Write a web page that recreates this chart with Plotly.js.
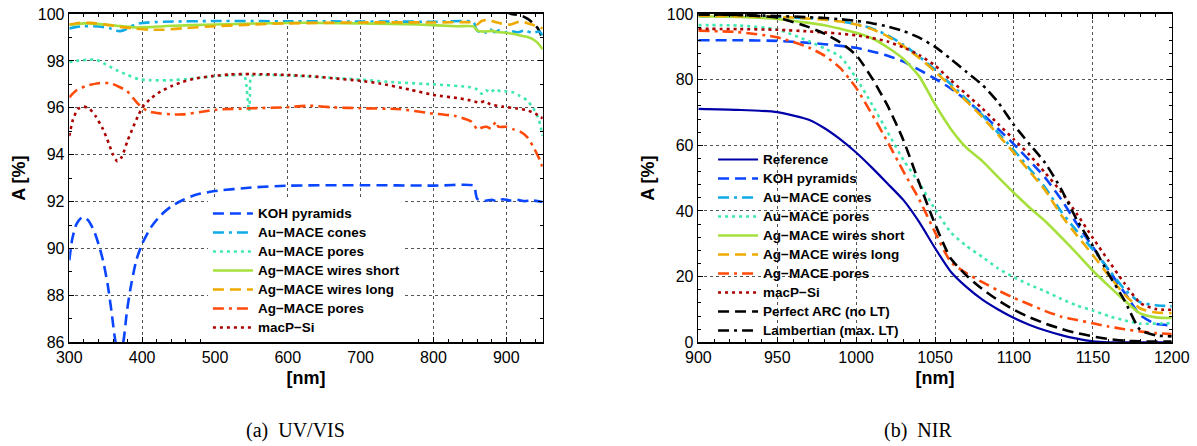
<!DOCTYPE html>
<html>
<head>
<meta charset="utf-8">
<script src="https://cdn.plot.ly/plotly-3.0.1.min.js"></script>
<style>
  html, body { margin: 0; padding: 0; background: #fff; }
  #chart { width: 1197px; height: 446px; }
</style>
</head>
<body>
<div id="chart"></div>
<script>
// ---------- (a) UV/VIS : absorption A [%] vs wavelength [nm] ----------
const uvKohNm = [300,304,310,318,326,334,341,347,353,358,363,368,374,379,384,392,400,412,425,440,456,475,500,550,600,700,800,856,858,860,870,880,888,895,905,915,925,935,950];
const uvKohA  = [89.5,90.4,91.05,91.35,91.2,90.75,90.1,89.4,88.4,87.3,86.1,85.5,86.0,87.3,88.3,89.5,90.2,90.9,91.4,91.8,92.07,92.3,92.45,92.6,92.68,92.7,92.68,92.67,92.35,92.12,92.03,92.08,92.0,92.1,92.05,92.08,92.02,92.05,91.98];

const uvAuConesNm = [300,310,320,340,355,362,370,378,390,400,430,500,600,700,800,855,858,862,868,872,878,884,890,897,905,915,925,935,945,950];
const uvAuConesA  = [99.38,99.45,99.48,99.47,99.4,99.3,99.27,99.35,99.55,99.62,99.67,99.7,99.69,99.68,99.67,99.66,99.4,99.25,99.3,99.2,99.35,99.22,99.3,99.2,99.28,99.22,99.3,99.2,99.25,99.1];

const uvAuPoresNm = [300,310,325,337,350,365,380,395,410,435,470,500,530,540,543,545,547,548,549,552,600,650,700,750,800,850,860,866,872,878,885,892,900,910,919,928,937,944,950];
const uvAuPoresA  = [97.95,98.0,98.05,98.05,97.85,97.6,97.4,97.22,97.18,97.17,97.25,97.35,97.4,97.4,97.0,96.3,95.85,96.5,97.3,97.38,97.38,97.3,97.2,97.08,97.0,96.88,96.78,96.6,96.75,96.65,96.8,96.7,96.7,96.65,96.5,96.33,95.98,95.55,94.8];

const uvWiresShortNm = [300,320,342,365,388,410,434,500,620,700,780,832,855,860,870,880,890,900,910,920,928,935,942,950];
const uvWiresShortA  = [99.53,99.6,99.57,99.5,99.43,99.44,99.49,99.55,99.63,99.6,99.55,99.48,99.47,99.3,99.25,99.28,99.22,99.2,99.15,99.08,99.03,98.95,98.8,98.5];

const uvWiresLongNm = [300,315,330,350,370,390,410,430,460,500,550,600,700,800,856,860,866,873,880,886,892,900,906,912,919,928,937,947,950];
const uvWiresLongA  = [99.55,99.63,99.62,99.55,99.45,99.38,99.33,99.33,99.4,99.48,99.55,99.6,99.64,99.64,99.63,99.55,99.7,99.75,99.7,99.65,99.6,99.56,99.55,99.62,99.68,99.62,99.53,99.42,99.38];

const uvAgPoresNm = [300,310,325,340,356,368,379,388,395,401,412,425,440,456,480,502,550,595,630,662,700,754,795,830,852,861,866,873,879,884,887,889,900,910,919,928,937,946,951];
const uvAgPoresA  = [96.45,96.75,96.95,97.05,97.05,96.9,96.72,96.4,96.15,95.98,95.82,95.76,95.72,95.72,95.82,95.92,95.98,96.02,96.09,96.02,95.98,95.94,95.77,95.65,95.41,95.05,95.15,95.19,95.12,95.34,95.41,95.19,95.19,95.08,94.98,94.77,94.34,93.77,93.35];

const uvMacpNm = [300,305,312,320,328,336,346,354,360,366,372,380,388,395,401,412,425,440,456,475,498,520,549,598,630,662,700,726,767,800,836,850,863,870,878,895,915,928,940,950];
const uvMacpA  = [94.8,95.5,95.95,96.05,95.95,95.65,95.1,94.5,94.0,93.72,93.9,94.6,95.2,95.7,96.05,96.4,96.69,96.92,97.11,97.26,97.36,97.42,97.44,97.4,97.35,97.26,97.15,97.04,96.78,96.55,96.4,96.32,96.22,96.28,96.15,96.05,95.97,95.9,95.75,95.55];

const uvArcNm = [900,907,915,923,930,937,943,950];
const uvArcA  = [100.1,100.0,99.97,99.9,99.78,99.6,99.4,98.95];

// ---------- (b) NIR ----------
const nirNm = [900,925,950,970,980,990,1000,1010,1020,1030,1040,1050,1060,1070,1080,1090,1100,1110,1120,1130,1140,1150,1160,1170,1180,1190,1200];

const nirReference = [71.1,70.8,70.1,67.8,65.2,61.8,57.8,53.2,48.3,43.3,36.6,28.7,21.5,16.8,13.0,10.0,7.4,5.3,3.6,2.2,1.1,0.3,0,0,0,0,0];
const nirKoh       = [92.0,92.0,91.8,91.2,90.8,90.3,89.7,88.6,87.3,85.5,83.0,80.3,77.3,73.7,69.6,65.0,60.3,55.3,50.0,43.5,36.0,29.0,22.0,15.2,8.3,5.6,5.2];
const nirAuCones   = [99.3,99.25,99.1,98.7,98.4,97.8,96.9,95.6,93.5,90.6,87.0,83.0,78.6,74.0,69.2,63.8,58.5,52.8,47.0,39.8,33.8,28.3,22.2,16.2,12.2,11.3,11.0];
const nirAuPores   = [96.6,96.5,95.3,91.7,89.5,87.0,80.5,72.5,64.0,55.5,48.5,40.5,33.5,29.3,26.0,22.5,19.8,17.5,15.5,13.2,11.2,9.7,8.0,6.7,5.7,5.7,5.8];
const nirWiresShort= [99.3,99.1,98.5,97.3,96.6,95.5,94.3,92.6,89.8,86.3,81.0,72.5,65.0,59.2,55.2,50.3,45.5,41.0,36.8,32.0,27.0,21.8,17.2,12.8,8.8,7.6,7.4];
const nirWiresLong = [99.45,99.35,99.2,98.6,98.3,97.7,96.8,95.4,93.2,90.2,86.6,82.5,78.0,73.4,68.6,63.2,57.7,52.0,46.2,38.7,32.5,26.6,20.4,14.6,10.3,9.1,8.9];
const nirAgPores   = [94.9,94.5,92.9,89.8,87.3,83.5,77.5,69.5,61.0,52.0,43.5,33.5,24.5,21.0,18.3,15.8,13.5,11.5,9.5,7.8,6.8,5.8,4.8,4.0,3.3,2.8,2.5];
const nirMacp      = [95.5,95.4,95.2,94.7,94.4,94.0,93.5,92.7,91.6,89.8,87.5,84.3,79.8,75.5,71.2,66.5,61.8,57.0,51.5,45.8,39.0,31.8,24.8,18.0,12.0,10.1,9.9];
const nirPerfectArc= [99.9,99.7,98.9,96.0,94.0,91.3,87.5,80.5,72.0,61.5,48.5,36.0,25.5,20.3,16.2,12.8,9.9,7.6,5.7,4.1,2.8,1.8,1.0,0.5,0.3,0.2,0.2];
const nirLambertian= [99.9,99.7,99.4,99.0,98.8,98.4,97.9,97.2,96.2,94.8,92.8,90.0,86.3,82.3,78.4,73.1,66.2,60.3,54.5,46.6,37.2,29.4,20.8,12.8,3.8,2.1,1.8];

const seriesNames = ['Reference','KOH pyramids','Au\u2212MACE cones','Au\u2212MACE pores','Ag\u2212MACE wires short','Ag\u2212MACE wires long','Ag\u2212MACE pores','macP\u2212Si','Perfect ARC (no LT)','Lambertian (max. LT)'];

// line styles per series
const DASH = '11px,6px';
const DASHDOT = '11px,5px,3px,5px';
const DOT = '3px,4px';
const styles = {
  'Reference':            {color:'#0000a8', dash:'solid'},
  'KOH pyramids':         {color:'#0a46ff', dash:DASH},
  'Au\u2212MACE cones':   {color:'#10aae6', dash:DASHDOT},
  'Au\u2212MACE pores':   {color:'#3ee8b0', dash:DOT},
  'Ag\u2212MACE wires short': {color:'#a6e03c', dash:'solid'},
  'Ag\u2212MACE wires long':  {color:'#eeaa00', dash:DASH},
  'Ag\u2212MACE pores':   {color:'#ff4a0a', dash:DASHDOT},
  'macP\u2212Si':         {color:'#aa0000', dash:DOT},
  'Perfect ARC (no LT)':  {color:'#000000', dash:DASH},
  'Lambertian (max. LT)': {color:'#000000', dash:DASHDOT}
};

// legend text is drawn a little larger than the legend's row font
const LEGEND_TEXT_PX = 13.5;

function trace(name, x, y, axes, legend, show) {
  const s = styles[name];
  return {
    type: 'scatter', mode: 'lines',
    name: '<span style="font-size:' + LEGEND_TEXT_PX + 'px">' + name + '</span>',
    x: x, y: y,
    xaxis: axes[0], yaxis: axes[1], legend: legend, showlegend: show,
    line: {color: s.color, dash: s.dash, width: name === 'Reference' ? 2.2 : 2.6, shape: 'spline', smoothing: 0.6},
    hoverinfo: 'x+y'
  };
}

const L = ['x','y'], R = ['x2','y2'];
const data = [
  trace(seriesNames[8], uvArcNm, uvArcA, L, 'legend', false),
  trace(seriesNames[1], uvKohNm, uvKohA, L, 'legend', true),
  trace(seriesNames[2], uvAuConesNm, uvAuConesA, L, 'legend', true),
  trace(seriesNames[3], uvAuPoresNm, uvAuPoresA, L, 'legend', true),
  trace(seriesNames[4], uvWiresShortNm, uvWiresShortA, L, 'legend', true),
  trace(seriesNames[5], uvWiresLongNm, uvWiresLongA, L, 'legend', true),
  trace(seriesNames[6], uvAgPoresNm, uvAgPoresA, L, 'legend', true),
  trace(seriesNames[7], uvMacpNm, uvMacpA, L, 'legend', true),

  trace(seriesNames[0], nirNm, nirReference, R, 'legend2', true),
  trace(seriesNames[1], nirNm, nirKoh, R, 'legend2', true),
  trace(seriesNames[2], nirNm, nirAuCones, R, 'legend2', true),
  trace(seriesNames[3], nirNm, nirAuPores, R, 'legend2', true),
  trace(seriesNames[4], nirNm, nirWiresShort, R, 'legend2', true),
  trace(seriesNames[5], nirNm, nirWiresLong, R, 'legend2', true),
  trace(seriesNames[6], nirNm, nirAgPores, R, 'legend2', true),
  trace(seriesNames[7], nirNm, nirMacp, R, 'legend2', true),
  trace(seriesNames[8], nirNm, nirPerfectArc, R, 'legend2', true),
  trace(seriesNames[9], nirNm, nirLambertian, R, 'legend2', true)
];

const FONT = 'Liberation Sans, Arial, Helvetica, sans-serif';
function axis(extra) {
  return Object.assign({
    showline: true, linecolor: '#000', linewidth: 1.6, mirror: 'allticks',
    ticks: 'inside', ticklen: 5, tickwidth: 1, tickcolor: '#000',
    showgrid: true, gridcolor: '#555', griddash: 'dot', gridwidth: 1,
    zeroline: false, tickfont: {family: FONT, size: 16, color: '#000'},
    fixedrange: true
  }, extra);
}
const titleFont = {family: FONT, size: 18, color: '#000', weight: 'bold'};
const plotTop = 0.9686, plotBottom = 0.2325;
const legendFont = {family: FONT, size: 12, color: '#000', weight: 'bold'};

const layout = {
  width: 1197, height: 446,
  margin: {l: 0, r: 0, t: 0, b: 0},
  paper_bgcolor: '#fff', plot_bgcolor: '#fff',
  font: {family: FONT, color: '#000'},
  xaxis: axis({domain: [0.0579, 0.4534], range: [300, 950], tick0: 300, dtick: 100, anchor: 'y',
    minor: {dtick: 20, tick0: 300, ticks: 'inside', ticklen: 3, tickcolor: '#000', showgrid: false},
    title: {text: '[nm]', font: titleFont, standoff: 6}}),
  yaxis: axis({domain: [plotBottom, plotTop], range: [86, 100], tick0: 86, dtick: 2, anchor: 'x',
    minor: {dtick: 1, ticks: 'inside', ticklen: 3, tickcolor: '#000', showgrid: false},
    title: {text: 'A [%]', font: titleFont, standoff: 7}}),
  xaxis2: axis({domain: [0.5834, 0.9789], range: [900, 1200], tick0: 900, dtick: 50, anchor: 'y2',
    minor: {dtick: 10, ticks: 'inside', ticklen: 3, tickcolor: '#000', showgrid: false},
    title: {text: '[nm]', font: titleFont, standoff: 6}}),
  yaxis2: axis({domain: [plotBottom, plotTop], range: [0, 100], tick0: 0, dtick: 20, anchor: 'x2',
    minor: {dtick: 4, ticks: 'inside', ticklen: 3, tickcolor: '#000', showgrid: false},
    title: {text: 'A [%]', font: titleFont, standoff: 7}}),
  legend: {x: 0.1737, y: 0.5538, xanchor: 'left', yanchor: 'top', bgcolor: '#fff', borderwidth: 0,
    font: legendFont, itemwidth: 40, tracegroupgap: 0},
  legend2: {x: 0.5957, y: 0.6749, xanchor: 'left', yanchor: 'top', bgcolor: 'rgba(255,255,255,0)', borderwidth: 0,
    font: legendFont, itemwidth: 40, tracegroupgap: 0},
  annotations: [
    {text: '(a)  UV/VIS', xref: 'paper', yref: 'paper', x: 0.2465, y: 0.034, xanchor: 'center', yanchor: 'middle',
     showarrow: false, font: {family: 'Liberation Serif, Times New Roman, serif', size: 20, color: '#000'}},
    {text: '(b)  NIR', xref: 'paper', yref: 'paper', x: 0.767, y: 0.034, xanchor: 'center', yanchor: 'middle',
     showarrow: false, font: {family: 'Liberation Serif, Times New Roman, serif', size: 20, color: '#000'}}
  ]
};

Plotly.newPlot('chart', data, layout, {staticPlot: true, displayModeBar: false});
</script>
</body>
</html>
